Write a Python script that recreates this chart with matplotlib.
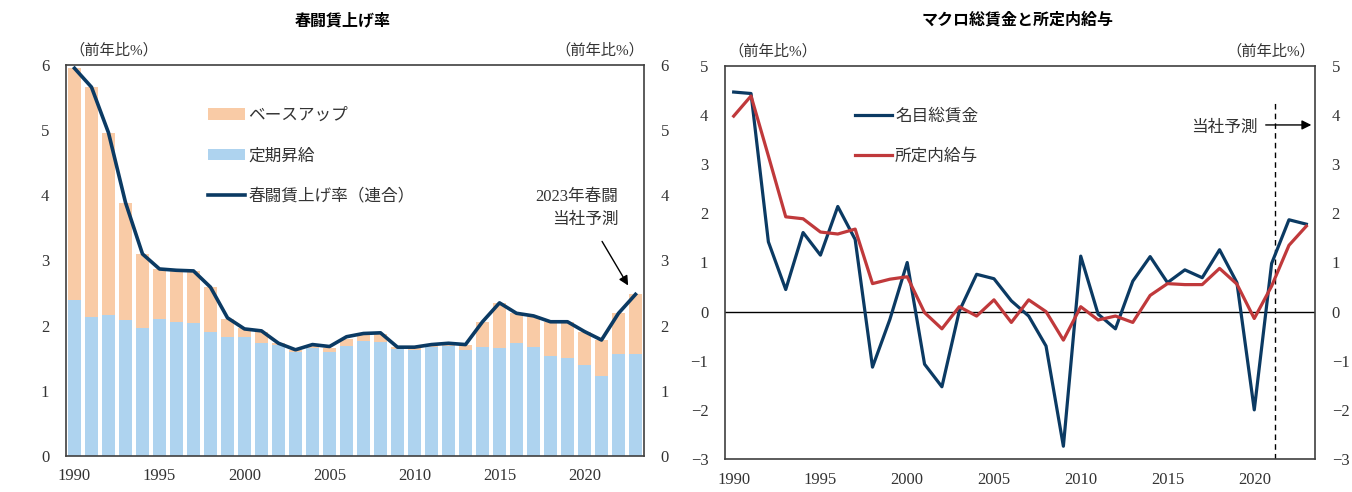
import matplotlib
matplotlib.use('Agg')
import matplotlib.pyplot as plt

# フォント：数字はセリフ体、日本語は Noto Sans CJK JP
plt.rcParams['font.family'] = ['Liberation Serif', 'Noto Sans CJK JP']
plt.rcParams['axes.unicode_minus'] = False

# ---------------------------- データ ---------------------------- #
years = list(range(1990, 2024))

# 春闘賃上げ率（左図）
teiki = [2.40, 2.14, 2.16, 2.09, 1.97, 2.10, 2.05, 2.04, 1.91, 1.83,
         1.83, 1.73, 1.71, 1.59, 1.66, 1.59, 1.69, 1.76, 1.75, 1.64,
         1.63, 1.68, 1.69, 1.63, 1.68, 1.66, 1.74, 1.67, 1.53, 1.50,
         1.40, 1.22, 1.57, 1.57]
base_up = [3.55, 3.52, 2.80, 1.80, 1.13, 0.77, 0.80, 0.80, 0.68, 0.27,
           0.13, 0.18, 0.02, 0.04, 0.05, 0.07, 0.10, 0.10, 0.12, 0.03,
           0.04, 0.03, 0.04, 0.08, 0.38, 0.69, 0.45, 0.48, 0.53, 0.56,
           0.51, 0.56, 0.62, 0.91]
shunto = [5.95, 5.66, 4.96, 3.89, 3.10, 2.87, 2.85, 2.84, 2.59, 2.12,
          1.95, 1.92, 1.73, 1.63, 1.71, 1.68, 1.83, 1.88, 1.89, 1.67,
          1.67, 1.71, 1.73, 1.71, 2.06, 2.35, 2.19, 2.15, 2.06, 2.06,
          1.91, 1.78, 2.19, 2.48]

# マクロ総賃金と所定内給与（右図）
nominal_total = [4.47, 4.44, 1.42, 0.45, 1.61, 1.15, 2.14, 1.47, -1.13, -0.16,
                 1.00, -1.07, -1.53, 0.01, 0.76, 0.67, 0.22, -0.09, -0.70, -2.74,
                 1.13, -0.05, -0.35, 0.62, 1.12, 0.59, 0.85, 0.69, 1.26, 0.59,
                 -2.00, 0.98, 1.87, 1.78]
scheduled = [3.98, 4.39, 3.17, 1.93, 1.89, 1.62, 1.58, 1.68, 0.57, 0.66,
             0.71, -0.02, -0.35, 0.10, -0.09, 0.24, -0.22, 0.24, 0.00, -0.58,
             0.10, -0.17, -0.09, -0.22, 0.33, 0.57, 0.55, 0.55, 0.88, 0.56,
             -0.14, 0.52, 1.35, 1.74]

xticks = [1990, 1995, 2000, 2005, 2010, 2015, 2020]

NAVY = '#0B3A63'
RED = '#C0393B'
ORANGE = '#F9CBA6'
LBLUE = '#AED3EF'
TXT = '#333333'


def style_axes(ax, ylim, yticks):
    ax.set_xlim(1989.5, 2023.5)
    ax.set_ylim(*ylim)
    ax.set_xticks(xticks)
    ax.set_yticks(yticks)
    ax.set_yticklabels([str(v) for v in yticks])
    ax.tick_params(axis='both', length=0, labelsize=12, colors=TXT)
    ax.tick_params(axis='y', labelright=True, pad=12)
    ax.tick_params(axis='x', pad=9)
    for s in ax.spines.values():
        s.set_color('#404040')
        s.set_linewidth(1.2)
    ax.text(0.005, 1.02, '（前年比%）', transform=ax.transAxes, ha='left', va='bottom',
            fontsize=11, color=TXT)
    ax.text(1.0, 1.02, '（前年比%）', transform=ax.transAxes, ha='right', va='bottom',
            fontsize=11, color=TXT)


# ---------------------------- 左：春闘賃上げ率 ---------------------------- #
def draw_left(fig):
    ax = fig.add_axes([66 / 1352, 36 / 492, 578 / 1352, 391 / 492])
    ax.bar(years, teiki, width=0.76, color=LBLUE, label='定期昇給', zorder=2)
    ax.bar(years, base_up, bottom=teiki, width=0.76, color=ORANGE, label='ベースアップ', zorder=2)
    ax.plot(years, shunto, color=NAVY, linewidth=2.6, label='春闘賃上げ率（連合）', zorder=3)
    style_axes(ax, (0, 6), [0, 1, 2, 3, 4, 5, 6])

    handles, labels = ax.get_legend_handles_labels()
    order = [2, 1, 0]
    ax.legend([handles[i] for i in order], [labels[i] for i in order],
              loc='upper left', bbox_to_anchor=(0.22, 0.928), frameon=False,
              fontsize=12, handlelength=2.2, labelspacing=1.45, handletextpad=0.2,
              labelcolor=TXT)

    ax.text(2022.0, 3.8, '2023年春闘\n当社予測', ha='right', va='center', fontsize=12,
            color=TXT, linespacing=1.6)
    ax.annotate('', xy=(2022.65, 2.58), xytext=(2020.95, 3.33),
                arrowprops=dict(arrowstyle='-|>', color='black', lw=1.0, mutation_scale=14))
    fig.text(343 / 1352, 1 - 20 / 492, '春闘賃上げ率', ha='center', va='center',
             fontsize=11.5, fontweight='bold', family='Noto Sans CJK JP', color='black')


# ---------------------------- 右：マクロ総賃金 ---------------------------- #
def draw_right(fig):
    ax = fig.add_axes([725 / 1352, 33 / 492, 590 / 1352, 393 / 492])
    ax.axhline(0, color='black', linewidth=1.0, zorder=1)
    ax.plot(years, nominal_total, color=NAVY, linewidth=2.3, label='名目総賃金', zorder=3)
    ax.plot(years, scheduled, color=RED, linewidth=2.3, label='所定内給与', zorder=3)
    style_axes(ax, (-3, 5), [-3, -2, -1, 0, 1, 2, 3, 4, 5])
    ax.set_yticklabels(['−3', '−2', '−1', '0', '1', '2', '3', '4', '5'])

    ax.legend(loc='upper left', bbox_to_anchor=(0.195, 0.93), frameon=False,
              fontsize=12, handlelength=2.2, labelspacing=1.45, handletextpad=0.2,
              labelcolor=TXT)

    ax.axvline(2021.2, ymin=0, ymax=(4.3 + 3) / 8, color='black', linewidth=1.0,
               linestyle=(0, (4, 3)), zorder=2)
    ax.text(2020.2, 3.74, '当社予測', ha='right', va='center', fontsize=12, color=TXT)
    ax.annotate('', xy=(2023.45, 3.8), xytext=(2020.5, 3.8),
                arrowprops=dict(arrowstyle='-|>', color='black', lw=1.0, mutation_scale=14))
    fig.text(1018 / 1352, 1 - 20 / 492, 'マクロ総賃金と所定内給与', ha='center', va='center',
             fontsize=11.5, fontweight='bold', family='Noto Sans CJK JP', color='black')


def main():
    fig = plt.figure(figsize=(13.52, 4.92), dpi=100)
    draw_left(fig)
    draw_right(fig)
    fig.savefig('out.png', dpi=100)
    plt.close(fig)


if __name__ == "__main__":
    main()
